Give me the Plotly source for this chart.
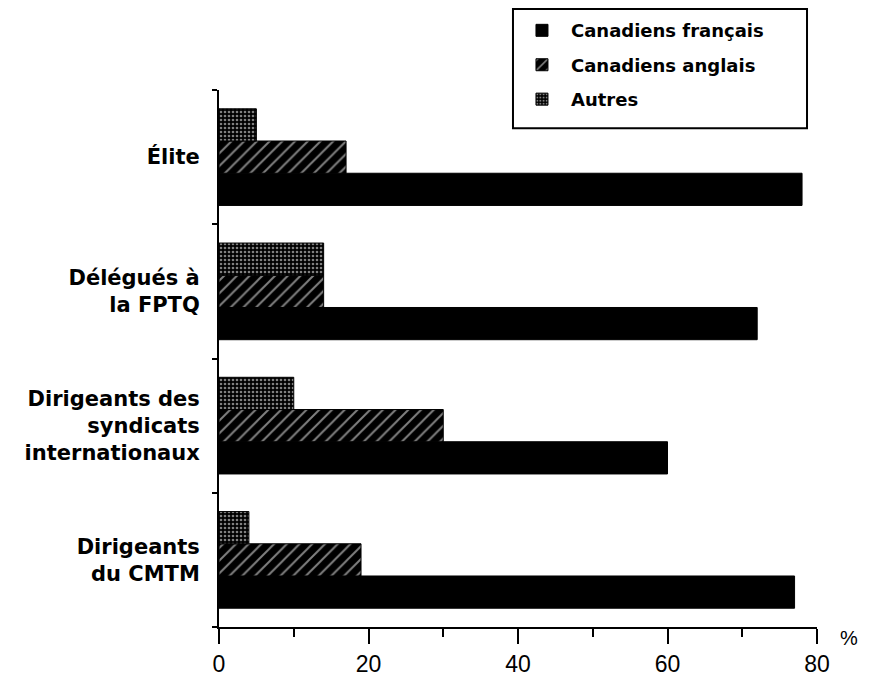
import plotly.graph_objects as go

categories = ["Dirigeants<br>du CMTM",
              "Dirigeants des<br>syndicats<br>internationaux",
              "Délégués à<br>la FPTQ",
              "Élite"]
series_names = ["Canadiens français", "Canadiens anglais", "Autres"]
francais = [77, 60, 72, 78]
anglais = [19, 30, 14, 17]
autres = [4, 10, 14, 5]
x_ticks = [0, 20, 40, 60, 80]

fig = go.Figure()
fig.add_trace(go.Bar(
    y=categories, x=francais, orientation="h", name=series_names[0],
    legendgroup="a",
    marker=dict(color="black", line=dict(color="black", width=1)),
))
fig.add_trace(go.Bar(
    y=categories, x=anglais, orientation="h", name=series_names[1],
    legendgroup="b",
    marker=dict(color="black", line=dict(color="black", width=1),
                pattern=dict(shape="/", fgcolor="white", bgcolor="black",
                             size=9, solidity=0.22, fillmode="overlay")),
))
fig.add_trace(go.Bar(
    y=categories, x=autres, orientation="h", name=series_names[2],
    legendgroup="c",
    marker=dict(color="black", line=dict(color="black", width=1),
                pattern=dict(shape=".", fgcolor="white", bgcolor="black",
                             size=4, solidity=0.35, fillmode="overlay")),
))

fig.update_layout(
    width=875, height=685,
    margin=dict(l=211, r=66, t=82, b=66, autoexpand=False),
    paper_bgcolor="white", plot_bgcolor="white",
    barmode="group", bargap=0.28, bargroupgap=0,
    showlegend=True,
    legend=dict(
        x=0.4916, y=1.145, xanchor="left", yanchor="top",
        borderwidth=0, bgcolor="rgba(0,0,0,0)",
        font=dict(family="DejaVu Sans", size=18, color="black", weight="bold"),
        tracegroupgap=8, traceorder="grouped", itemwidth=48,
    ),
    shapes=[dict(
        type="rect", xref="paper", yref="paper",
        x0=0.4916, x1=0.9833, y0=0.929, y1=1.151,
        line=dict(color="black", width=2), fillcolor="rgba(0,0,0,0)",
        layer="above",
    )],
    xaxis=dict(
        range=[0, 80], tickvals=x_ticks, showgrid=False, zeroline=False,
        showline=True, linecolor="black", linewidth=2,
        ticks="outside", ticklen=15, tickwidth=2, tickcolor="black",
        tickfont=dict(family="Liberation Sans", size=23, color="black"),
        minor=dict(dtick=10, ticks="outside", ticklen=8, tickwidth=2,
                   tickcolor="black", showgrid=False),
    ),
    yaxis=dict(
        categoryorder="array", categoryarray=categories,
        showgrid=False, zeroline=False,
        showline=True, linecolor="black", linewidth=2,
        ticks="outside", tickson="boundaries", ticklen=5, tickwidth=2,
        tickcolor="black", ticklabelstandoff=13,
        tickfont=dict(family="DejaVu Sans", size=21, color="black", weight="bold"),
    ),
    annotations=[dict(
        text="%", xref="paper", yref="paper", x=1.072, y=-0.045,
        showarrow=False, font=dict(family="Liberation Sans", size=20, color="black"),
    )],
)

fig.write_html("out.html")
